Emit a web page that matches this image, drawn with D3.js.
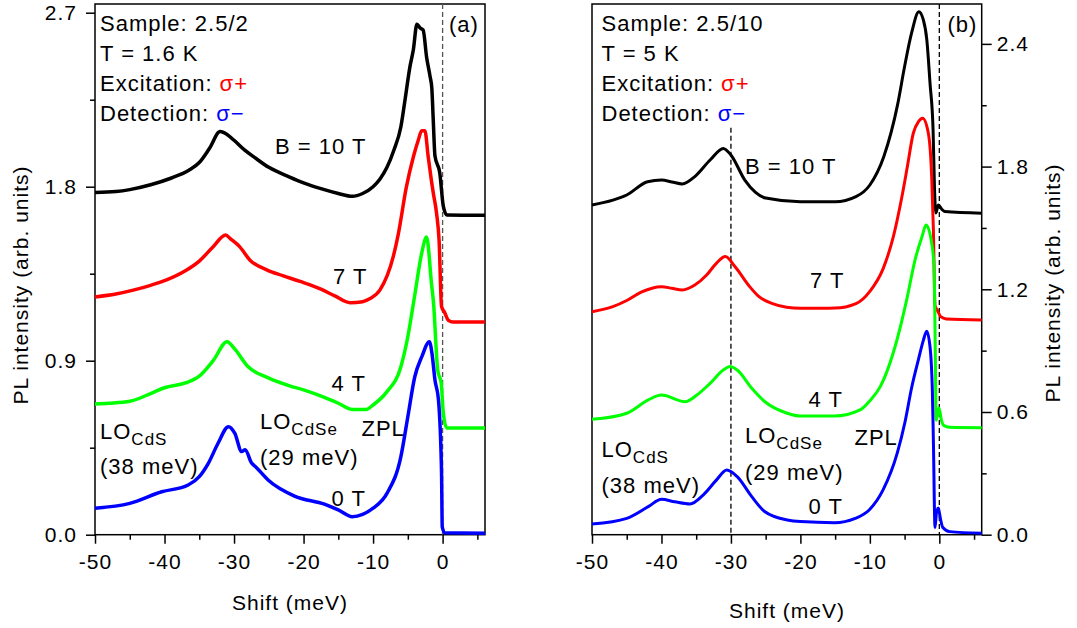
<!DOCTYPE html>
<html>
<head>
<meta charset="utf-8">
<script src="https://cdn.jsdelivr.net/npm/d3@7/dist/d3.min.js"></script>
<style>
  body { margin: 0; background: #fff; }
  svg text { font-family: Arial, 'Liberation Sans', sans-serif; fill: #000; letter-spacing: 1px; }
  .tick text { font-size: 21px; }
  .axisTitle { font-size: 21px; }
  .note { font-size: 22px; }
</style>
</head>
<body>
<div id="chart"></div>
<script>
//** shared axis values
const xTicks = [-50, -40, -30, -20, -10, 0];
const xMinorTicks = [-45, -35, -25, -15, -5, 5];
const yTicksA = [0, 0.9, 1.8, 2.7];
const yMinorTicksA = [0.45, 1.35, 2.25];
const yTicksB = [0, 0.6, 1.2, 1.8, 2.4];
const yMinorTicksB = [0.3, 0.9, 1.5, 2.1];
const fieldLabels = ['B = 10 T', '7 T', '4 T', '0 T'];
const seriesColors = ['#000000', '#ff0000', '#00ff00', '#0000ff'];

//** panel (a) sample 2.5/2, [shift meV, intensity]
const a10T = [[-50,1.77],[-47,1.775],[-45,1.785],[-42,1.81],[-39,1.845],[-36.5,1.885],[-35,1.925],[-33.5,2.0],[-32,2.085],[-31,2.07],[-30,2.04],[-28.5,1.99],[-27,1.95],[-25,1.90],[-22,1.85],[-20,1.82],[-17.5,1.79],[-15,1.765],[-13,1.75],[-11.5,1.765],[-10,1.80],[-9,1.84],[-8,1.90],[-7,1.99],[-6,2.11],[-5.4,2.25],[-4.7,2.42],[-4.2,2.51],[-3.7,2.64],[-3.2,2.62],[-2.8,2.61],[-2.3,2.47],[-1.8,2.37],[-1.55,2.31],[-1.35,2.15],[-1.1,1.96],[-0.4,1.87],[0.1,1.70],[0.6,1.654],[6.1,1.652]];
const a7T = [[-50,1.23],[-47,1.245],[-44.5,1.265],[-42,1.29],[-39.7,1.318],[-37,1.365],[-35,1.415],[-33,1.49],[-31.2,1.55],[-30.5,1.53],[-29.2,1.49],[-27.7,1.42],[-25.3,1.37],[-23,1.34],[-20.5,1.31],[-17.5,1.27],[-15.5,1.235],[-13.3,1.2],[-11.5,1.205],[-10.5,1.22],[-9,1.266],[-7.1,1.438],[-6.4,1.55],[-5.2,1.80],[-4.2,1.955],[-3.5,2.04],[-3,2.09],[-2.55,2.09],[-2.07,1.955],[-1.6,1.83],[-1.35,1.77],[-0.86,1.66],[-0.5,1.52],[-0.15,1.18],[0.33,1.147],[0.8,1.11],[1.5,1.10],[6.1,1.10]];
const a4T = [[-50,0.676],[-48,0.68],[-45,0.69],[-42,0.73],[-40,0.76],[-37,0.785],[-35,0.82],[-33,0.9],[-31,0.998],[-30,0.965],[-28,0.87],[-25,0.81],[-22,0.77],[-20,0.749],[-17,0.71],[-15,0.68],[-13,0.648],[-11,0.648],[-10,0.671],[-8,0.74],[-6,0.869],[-5,1.024],[-4,1.24],[-3,1.457],[-2.3,1.54],[-1.6,1.30],[-1.3,1.197],[-0.7,0.85],[-0.2,0.785],[0.1,0.63],[0.6,0.552],[6.1,0.552]];
const a0T = [[-50,0.137],[-45,0.162],[-40.4,0.222],[-36.6,0.257],[-35,0.30],[-33.7,0.369],[-32.3,0.473],[-30.8,0.559],[-29.9,0.525],[-28.9,0.43],[-28.4,0.44],[-27.5,0.372],[-26.8,0.348],[-25.1,0.283],[-21.3,0.20],[-17,0.158],[-15,0.128],[-13,0.093],[-11.5,0.105],[-10,0.137],[-8,0.214],[-6,0.404],[-5,0.61],[-4,0.817],[-3,0.92],[-1.9,0.998],[-1.5,0.93],[-1.1,0.80],[-0.6,0.70],[-0.15,0.318],[-0.05,0.04],[0.3,0.01],[6.1,0.008]];

//** panel (b) sample 2.5/10
const b10T = [[-50,1.612],[-47,1.636],[-45,1.661],[-42,1.726],[-40,1.734],[-38.5,1.725],[-37,1.715],[-35.2,1.751],[-33,1.832],[-31.1,1.889],[-30,1.857],[-28,1.734],[-26.5,1.675],[-25,1.646],[-20,1.628],[-15,1.628],[-12,1.653],[-10,1.71],[-8,1.848],[-6,2.104],[-5,2.289],[-4,2.452],[-2.95,2.557],[-2.3,2.517],[-1.8,2.42],[-1.34,2.208],[-0.9,1.98],[-0.7,1.70],[-0.5,1.573],[-0.14,1.612],[0.4,1.59],[0.8,1.58],[6.1,1.572]];
const b7T = [[-50,1.09],[-47,1.115],[-45,1.145],[-43,1.185],[-40,1.213],[-38.5,1.205],[-37,1.197],[-35.2,1.221],[-33.5,1.27],[-32.1,1.327],[-30.8,1.36],[-29.4,1.31],[-27.3,1.213],[-26,1.165],[-24,1.13],[-22,1.112],[-20,1.107],[-15,1.108],[-12,1.13],[-10,1.19],[-8.1,1.30],[-6.6,1.46],[-5.4,1.65],[-4.6,1.80],[-3.75,1.963],[-3,2.02],[-2.4,2.036],[-1.58,1.963],[-1.1,1.75],[-0.86,1.50],[-0.62,1.12],[-0.3,1.099],[0.2,1.066],[1,1.055],[6.1,1.05]];
const b4T = [[-50,0.564],[-45,0.594],[-41.9,0.659],[-40,0.683],[-36.6,0.65],[-34.9,0.683],[-33,0.74],[-31.1,0.805],[-30.1,0.822],[-29.1,0.805],[-27,0.716],[-25.1,0.65],[-21.9,0.594],[-20,0.58],[-15.1,0.58],[-11.4,0.61],[-10,0.655],[-8.5,0.724],[-6.1,0.952],[-4.7,1.148],[-3.5,1.343],[-2.5,1.457],[-1.9,1.514],[-1.1,1.425],[-0.76,1.31],[-0.6,0.95],[-0.45,0.56],[-0.05,0.62],[0.3,0.56],[0.6,0.535],[1.5,0.525],[6.1,0.523]];
const b0T = [[-50,0.052],[-45,0.08],[-41.9,0.137],[-40,0.173],[-38.1,0.161],[-35.9,0.15],[-34,0.194],[-32.1,0.267],[-30.6,0.316],[-29.1,0.284],[-27,0.186],[-25.1,0.112],[-21.9,0.072],[-20,0.064],[-15.1,0.059],[-12.1,0.08],[-10.1,0.121],[-8.1,0.219],[-6.05,0.40],[-4.95,0.55],[-3.98,0.72],[-3.02,0.855],[-2.3,0.95],[-1.82,0.995],[-1.34,0.919],[-1.0,0.70],[-0.85,0.45],[-0.62,0.035],[-0.4,0.11],[-0.14,0.13],[0.15,0.08],[0.5,0.035],[1.5,0.015],[6.1,0.007]];

class PLPanel {
  constructor(settings) {
    this.ss = {};
    for (let m in settings) {
      this.ss[m] = settings[m];
    }
    this.g = this.ss.svg.append('g');
    this.createScales();
    this.createAxis();
    this.renderGuides();
    this.renderChart(this.ss.series);
    this.renderLabels();
  }

  createScales() {
    let b = this.ss.box;
    this.x = d3.scaleLinear().domain(this.ss.xDomain).range([b.left, b.right]);
    this.y = d3.scaleLinear().domain(this.ss.yDomain).range([b.bottom, b.top]);
  }

  //** axes: major + minor ticks, box drawn separately
  createAxis() {
    let b = this.ss.box;
    let xMajor = d3.axisBottom(this.x).tickValues(xTicks).tickSize(9).tickPadding(10)
      .tickFormat(d => String(d));
    let xMinor = d3.axisBottom(this.x).tickValues(xMinorTicks).tickSize(5).tickFormat('');
    this.g.append('g').attr('transform', 'translate(0,' + b.bottom + ')').call(xMajor);
    this.g.append('g').attr('transform', 'translate(0,' + b.bottom + ')').call(xMinor);

    let onRight = this.ss.yAxisSide === 'right';
    let make = onRight ? d3.axisRight : d3.axisLeft;
    let yMajor = make(this.y).tickValues(this.ss.yTicks).tickSize(onRight ? 10 : 9)
      .tickPadding(onRight ? 5 : 9).tickFormat(d3.format('.1f'));
    let yMinor = make(this.y).tickValues(this.ss.yMinorTicks).tickSize(5).tickFormat('');
    let yPos = onRight ? b.right : b.left;
    this.g.append('g').attr('transform', 'translate(' + yPos + ',0)').call(yMajor);
    this.g.append('g').attr('transform', 'translate(' + yPos + ',0)').call(yMinor);

    this.g.selectAll('.domain').remove();
    this.g.selectAll('.tick line').attr('stroke', '#000').attr('stroke-width', 1.5);
    this.g.selectAll('.tick text').attr('fill', '#000');
    this.g.selectAll('g').attr('font-size', null).attr('font-family', null);

    this.g.append('rect')
      .attr('x', b.left).attr('y', b.top)
      .attr('width', b.right - b.left).attr('height', b.bottom - b.top)
      .attr('fill', 'none').attr('stroke', '#000').attr('stroke-width', 1.5);

    //** axis titles
    let t = this.ss.titles;
    this.g.append('text').attr('class', 'axisTitle')
      .attr('x', t.x[0]).attr('y', t.x[1]).attr('text-anchor', 'middle')
      .text('Shift (meV)');
    this.g.append('text').attr('class', 'axisTitle')
      .attr('text-anchor', 'middle')
      .attr('transform', 'translate(' + t.y[0] + ',' + t.y[1] + ') rotate(-90)')
      .text('PL intensity (arb. units)');
  }

  //** dashed markers
  renderGuides() {
    let b = this.ss.box;
    this.ss.guides.forEach(gd => {
      this.g.append('line')
        .attr('x1', this.x(gd.shift)).attr('x2', this.x(gd.shift))
        .attr('y1', gd.from ? this.y(gd.from) : b.top).attr('y2', b.bottom)
        .attr('stroke', this.ss.guideColor).attr('stroke-width', 1.3)
        .attr('stroke-dasharray', '5,3');
    });
  }

  renderChart(data) {
    let line = d3.line()
      .x(d => this.x(d[0]))
      .y(d => this.y(d[1]))
      .curve(d3.curveMonotoneX);
    this.g.append('g').selectAll('path')
      .data(data)
      .enter().append('path')
      .attr('d', d => line(d))
      .attr('fill', 'none')
      .attr('stroke', (d, i) => seriesColors[i])
      .attr('stroke-width', this.ss.lineWidth)
      .attr('stroke-linejoin', 'round');
  }

  //** text notes inside the frame
  renderLabels() {
    let n = this.ss.notes;
    let info = [
      [{t: 'Sample: ' + this.ss.sample}],
      [{t: 'T = ' + this.ss.temp}],
      [{t: 'Excitation: '}, {t: 'σ+', c: '#ff0000'}],
      [{t: 'Detection: '}, {t: 'σ−', c: '#0000ff'}]
    ];
    info.forEach((parts, i) => this.note(n.infoX, n.infoY[i], parts));
    this.note(n.tag[0], n.tag[1], [{t: this.ss.tag}]);
    fieldLabels.forEach((f, i) => this.note(n.fields[i][0], n.fields[i][1], [{t: f}]));
    this.note(n.cds[0], n.cds[1], [{t: 'LO'}, {t: 'CdS', sub: true}]);
    this.note(n.cds[0], n.cds[2], [{t: '(38 meV)'}]);
    this.note(n.cdse[0], n.cdse[1], [{t: 'LO'}, {t: 'CdSe', sub: true}]);
    this.note(n.cdse[0], n.cdse[2], [{t: '(29 meV)'}]);
    this.note(n.zpl[0], n.zpl[1], [{t: 'ZPL'}]);
  }

  note(x, y, parts) {
    let txt = this.g.append('text').attr('class', 'note').attr('x', x).attr('y', y);
    parts.forEach(p => {
      let s = txt.append('tspan').text(p.t);
      if (p.c) s.attr('fill', p.c);
      if (p.sub) s.attr('font-size', '17px').attr('dy', 6);
    });
  }
}

const svg = d3.select('#chart').append('svg')
  .attr('width', 1077).attr('height', 628);

new PLPanel({
  svg: svg,
  box: {left: 95, right: 485, top: 4, bottom: 534.7},
  xDomain: [-50, 6.1],
  yDomain: [0, 2.745],
  yTicks: yTicksA,
  yMinorTicks: yMinorTicksA,
  yAxisSide: 'left',
  series: [a10T, a7T, a4T, a0T],
  lineWidth: 3.5,
  guideColor: '#555',
  guides: [{shift: 0}],
  sample: '2.5/2',
  temp: '1.6 K',
  tag: '(a)',
  titles: {x: [290, 610], y: [28, 285]},
  notes: {
    infoX: 100, infoY: [31, 60.5, 90.5, 120.5], tag: [449, 31.5],
    fields: [[275, 153.5], [333, 283.5], [331.5, 391], [331.5, 506]],
    cds: [100, 438.5, 474], cdse: [260, 428.5, 465], zpl: [361.5, 436]
  }
});

new PLPanel({
  svg: svg,
  box: {left: 592, right: 981.7, top: 4, bottom: 534.7},
  xDomain: [-50, 6.1],
  yDomain: [0, 2.595],
  yTicks: yTicksB,
  yMinorTicks: yMinorTicksB,
  yAxisSide: 'right',
  series: [b10T, b7T, b4T, b0T],
  lineWidth: 3,
  guideColor: '#000',
  guides: [{shift: 0}, {shift: -30, from: 1.99}],
  sample: '2.5/10',
  temp: '5 K',
  tag: '(b)',
  titles: {x: [787, 618], y: [1060, 283]},
  notes: {
    infoX: 601.5, infoY: [31, 60.5, 90.5, 120.5], tag: [947.5, 31.5],
    fields: [[745, 173.5], [810, 287.5], [808.5, 407], [808.5, 514]],
    cds: [601.5, 457, 493], cdse: [745, 443, 480], zpl: [854.5, 445]
  }
});
</script>
</body>
</html>
